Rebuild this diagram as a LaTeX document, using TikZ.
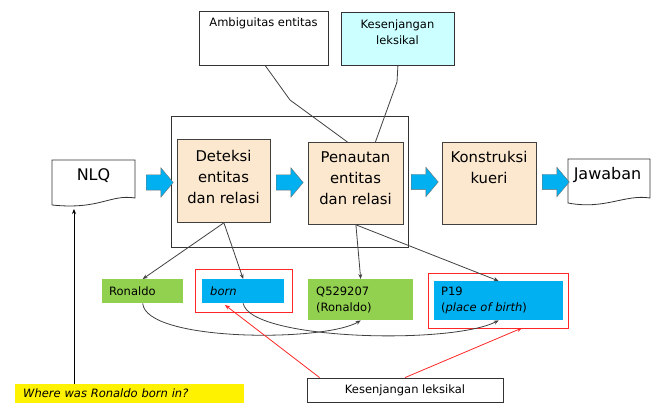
\documentclass[tikz,border=0pt]{standalone}
\usepackage{fontspec}
\setmainfont{DejaVu Sans}
\usepackage{tikz}
\usetikzlibrary{arrows.meta,shapes.arrows}

\definecolor{procfill}{HTML}{FCE8CF}
\definecolor{kesfill}{HTML}{CCFFFF}
\definecolor{arrowblue}{HTML}{00B0F0}
\definecolor{termgreen}{HTML}{92D050}
\definecolor{linegray}{HTML}{404040}

\tikzset{
  smallfont/.style={font=\fontsize{11.5}{16}\selectfont},
  bigfont/.style={font=\fontsize{14.8}{21}\selectfont},
  flowarrow/.style={single arrow, draw=black!55, fill=arrowblue, inner sep=0pt,
    text width=0pt, text height=7.5pt, text depth=7.5pt,
    minimum height=27pt, single arrow head extend=7pt,
    single arrow tip angle=100},
  linkline/.style={draw=linegray, line width=0.8pt},
  redline/.style={draw=red!85, line width=0.8pt},
}

\begin{document}
\begin{tikzpicture}[x=1pt,y=-1pt]
\useasboundingbox (0,0) rectangle (652,403);

% problem boxes on top
\begin{scope}[every node/.style={draw=black!80, line width=0.8pt, inner sep=0pt, anchor=north west}]
  \node[minimum width=129pt, minimum height=54pt] (amb) at (199,11) {};
  \node[fill=kesfill, minimum width=113pt, minimum height=53pt] (kes) at (341,12) {};
  \node[minimum width=237pt, minimum height=131pt] (stage) at (171,116) {};
\end{scope}
\node[smallfont, inner sep=0pt] (ambtxt) at (263.5,23) {Ambiguitas entitas};
\node[smallfont, align=center, inner sep=0pt] (kestxt) at (397.5,32) {Kesenjangan\\leksikal};

% process boxes
\begin{scope}[every node/.style={draw=black!75, line width=0.8pt, fill=procfill, inner sep=0pt, anchor=north west}]
  \node[minimum width=93pt, minimum height=83pt] (det) at (177,139) {};
  \node[minimum width=95pt, minimum height=82pt] (pen) at (308,142) {};
  \node[minimum width=94pt, minimum height=82pt] (kon) at (442,142) {};
\end{scope}
\begin{scope}[every node/.style={bigfont, align=center, inner sep=0pt}]
  \node (dettxt) at (223.5,176.5) {Deteksi\\entitas\\dan relasi};
  \node (pentxt) at (355.5,178) {Penautan\\entitas\\dan relasi};
  \node (kontxt) at (489,167.5) {Konstruksi\\kueri};
\end{scope}

% documents
\draw[draw=black!80, fill=white, line width=0.8pt]
  (52,160) -- (135,160) -- (135,198) .. controls (110,194) and (100,210) .. (52,205) -- cycle;
\draw[draw=black!80, fill=white, line width=0.8pt]
  (568,159) -- (650,159) -- (650,198) .. controls (625,194) and (605,210) .. (568,203) -- cycle;
\node[font=\fontsize{16}{20}\selectfont, inner sep=0pt] (nlq) at (93.5,176) {NLQ};
\node[font=\fontsize{16}{20}\selectfont, inner sep=0pt] (jaw) at (607.5,175) {Jawaban};
\coordinate (nlqtip) at (74,209);

% flow arrows
\node[flowarrow] (ar1) at (156.5,182.5) {};
\node[flowarrow] (ar2) at (286.5,182.5) {};
\node[flowarrow] (ar3) at (421.5,182) {};
\node[flowarrow] (ar4) at (552.5,182) {};

% terms found in the question
\begin{scope}[every node/.style={smallfont, inner sep=0pt, anchor=north west, align=left}]
  \node[fill=termgreen, text width=67pt, inner xsep=7pt, minimum height=24pt] (ron) at (102,279) {Ronaldo};
  \node[fill=arrowblue, text width=66pt, inner xsep=8pt, minimum height=24pt] (born) at (202,279) {\itshape born};
  \node[fill=termgreen, text width=89pt, inner xsep=8pt, minimum height=41pt] (q52) at (308,279) {Q529207\\(Ronaldo)};
  \node[fill=arrowblue, text width=115pt, inner xsep=7pt, minimum height=39pt] (p19) at (434,281) {P19\\(\textit{place of birth})};
\end{scope}
\begin{scope}[every node/.style={draw=red!85, line width=0.8pt, inner sep=0pt, anchor=north west}]
  \node[minimum width=97pt, minimum height=43pt] (bornframe) at (195,269) {};
  \node[minimum width=140pt, minimum height=55pt] (p19frame) at (428,273) {};
\end{scope}

% notes at the bottom
\node[draw=black!80, line width=0.8pt, smallfont, inner sep=0pt, minimum width=196pt, minimum height=24pt] (lex) at (405,390) {Kesenjangan leksikal};
\node[fill=yellow, smallfont, inner sep=0pt, anchor=north west, text width=213pt, inner xsep=8pt, minimum height=19pt, align=left] (quest) at (15,384) {\itshape Where was Ronaldo born in?};

% connectors
\coordinate (ambbend) at (290,100);
\coordinate (kesbend) at (397,82);
\coordinate (bornhit) at (225,305);
\coordinate (p19hit) at (522,328);
\begin{scope}[>={Stealth[length=5pt,width=4pt]}]
  \path[linkline] ([xshift=1.5pt]amb.south) -- (ambbend) -- ([xshift=-8.5pt]pen.north);
  \path[linkline] (kes.south) -- (kesbend) -- ([xshift=19.5pt]pen.north);
  \path[linkline, ->] (det.south) -- (ron.north);
  \path[linkline, ->] (det.south) -- (born.north);
  \path[linkline, ->] (pen.south) -- (q52.north);
  \path[linkline, ->] (pen.south) -- (p19.north);
  \path[linkline, ->] (ron.south) .. controls (146,342) and (325,342) .. (q52.south);
  \path[linkline, ->] (born.south) .. controls (250,340) and (450,345) .. (p19.south);
  \path[redline, ->] ([xshift=13pt]lex.north west) -- (bornhit);
  \path[redline, ->] (lex.north) -- (p19hit);
  \path[draw=black, line width=0.8pt, ->] (quest.north west -| nlqtip) -- (nlqtip);
\end{scope}
\end{tikzpicture}
\end{document}
